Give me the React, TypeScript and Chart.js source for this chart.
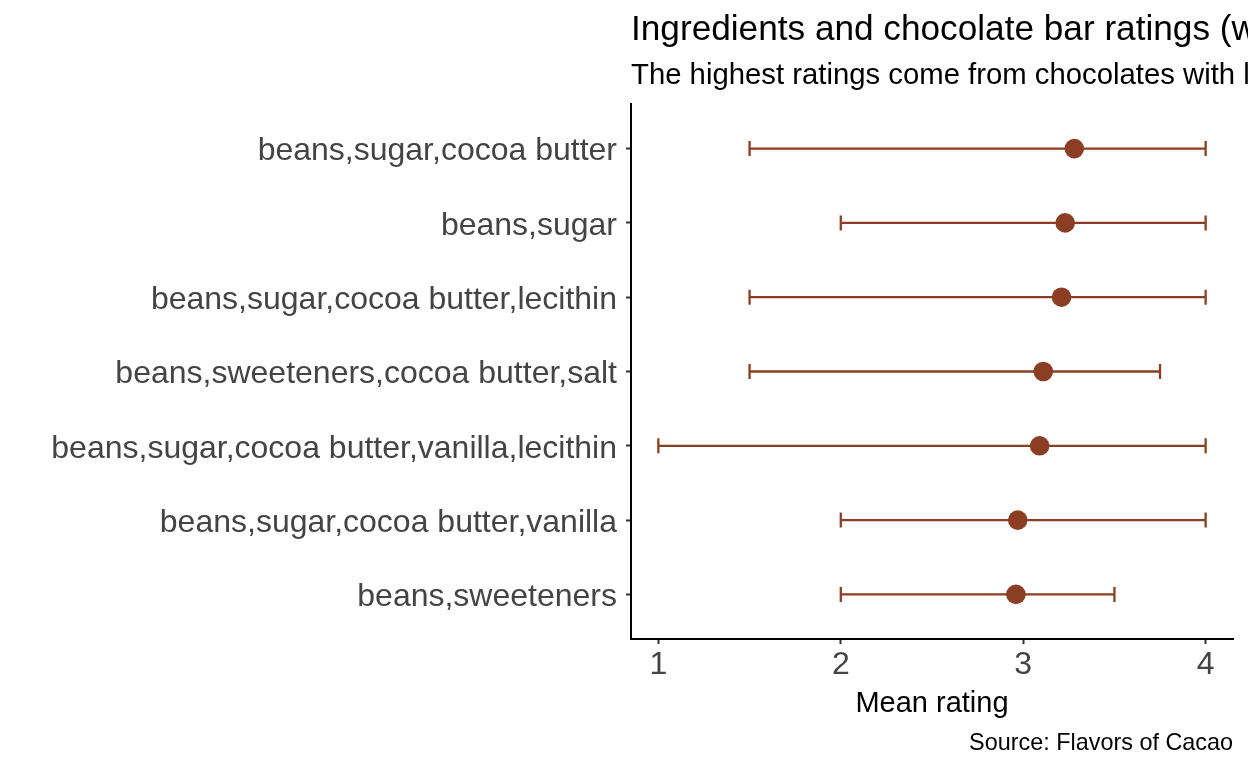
import React, { useEffect, useRef } from "react";
import { Chart, registerables } from "chart.js";

Chart.register(...registerables);

const categories = [
  "beans,sugar,cocoa butter",
  "beans,sugar",
  "beans,sugar,cocoa butter,lecithin",
  "beans,sweeteners,cocoa butter,salt",
  "beans,sugar,cocoa butter,vanilla,lecithin",
  "beans,sugar,cocoa butter,vanilla",
  "beans,sweeteners",
];
const meanRating = [3.28, 3.23, 3.21, 3.11, 3.09, 2.97, 2.96];
const minRating = [1.5, 2.0, 1.5, 1.5, 1.0, 2.0, 2.0];
const maxRating = [4.0, 4.0, 4.0, 3.75, 4.0, 4.0, 3.5];
const xTicks = [1, 2, 3, 4];

const titleText = "Ingredients and chocolate bar ratings (with at least 10 ratings)";
const subtitleText = "The highest ratings come from chocolates with less ingredients";
const xAxisTitle = "Mean rating";
const captionText = "Source: Flavors of Cacao";

const FONT = "'Liberation Sans', Arial, Helvetica, sans-serif";
const BROWN = "#8B3E23";
const LABEL_GREY = "#444444";

const textPlugin = {
  id: "textPlugin",
  afterDraw(chart: any) {
    const { ctx, chartArea } = chart;
    ctx.save();
    ctx.fillStyle = "#000000";
    ctx.textBaseline = "alphabetic";
    ctx.textAlign = "left";
    ctx.font = `35.2px ${FONT}`;
    ctx.fillText(titleText, chartArea.left, 40);
    ctx.font = `29.3px ${FONT}`;
    ctx.fillText(subtitleText, chartArea.left, 84);
    ctx.textAlign = "center";
    ctx.font = `29px ${FONT}`;
    ctx.fillText(xAxisTitle, (chartArea.left + chartArea.right) / 2, 712);
    ctx.textAlign = "right";
    ctx.font = `23.4px ${FONT}`;
    ctx.fillText(captionText, chartArea.right, 750);
    ctx.restore();
  },
};

const errorBarPlugin = {
  id: "errorBars",
  beforeDatasetsDraw(chart: any) {
    const { ctx } = chart;
    const xs = chart.scales.x;
    const ys = chart.scales.y;
    ctx.save();
    ctx.strokeStyle = BROWN;
    ctx.lineWidth = 2.3;
    for (let i = 0; i < categories.length; i++) {
      const y = ys.getPixelForValue(i);
      const x1 = xs.getPixelForValue(minRating[i]);
      const x2 = xs.getPixelForValue(maxRating[i]);
      ctx.beginPath();
      ctx.moveTo(x1, y);
      ctx.lineTo(x2, y);
      ctx.moveTo(x1, y - 7.5);
      ctx.lineTo(x1, y + 7.5);
      ctx.moveTo(x2, y - 7.5);
      ctx.lineTo(x2, y + 7.5);
      ctx.stroke();
    }
    ctx.restore();
  },
};

export default function App() {
  const ref = useRef<HTMLCanvasElement | null>(null);

  useEffect(() => {
    document.body.style.margin = "0";
    const canvas = ref.current;
    if (!canvas) return;
    const chart = new Chart(canvas, {
      type: "scatter",
      data: {
        datasets: [
          {
            data: meanRating.map((m, i) => ({ x: m, y: i })),
            backgroundColor: BROWN,
            borderColor: BROWN,
            borderWidth: 0,
            pointRadius: 9.8,
            pointHoverRadius: 9.8,
          },
        ],
      },
      options: {
        responsive: false,
        animation: false,
        events: [],
        layout: { padding: { top: 104, right: 15, bottom: 0, left: 0 } },
        plugins: {
          legend: { display: false },
          tooltip: { enabled: false },
          title: { display: false },
        },
        scales: {
          x: {
            type: "linear",
            min: 0.85,
            max: 4.15,
            afterBuildTicks: (s: any) => {
              s.ticks = xTicks.map((v) => ({ value: v }));
            },
            afterFit: (s: any) => {
              s.height = 129;
            },
            grid: {
              display: true,
              drawOnChartArea: false,
              drawTicks: true,
              tickLength: 5,
              tickColor: "#333333",
              tickWidth: 2,
            },
            border: { display: true, color: "#000000", width: 2 },
            ticks: {
              color: LABEL_GREY,
              font: { size: 32, family: FONT },
              padding: 2,
              maxRotation: 0,
              callback: (v: any) => String(v),
            },
          },
          y: {
            type: "linear",
            min: -0.6,
            max: categories.length - 1 + 0.6,
            reverse: true,
            afterBuildTicks: (s: any) => {
              s.ticks = categories.map((_, i) => ({ value: i }));
            },
            afterFit: (s: any) => {
              s.width = 631;
            },
            grid: {
              display: true,
              drawOnChartArea: false,
              drawTicks: true,
              tickLength: 5,
              tickColor: "#333333",
              tickWidth: 2,
            },
            border: { display: true, color: "#000000", width: 2 },
            ticks: {
              color: LABEL_GREY,
              font: { size: 32, family: FONT },
              padding: 9,
              labelOffset: 3,
              autoSkip: false,
              callback: (v: any) => categories[v as number] ?? "",
            },
          },
        },
      },
      plugins: [errorBarPlugin, textPlugin],
    });
    return () => chart.destroy();
  }, []);

  return (
    <div style={{ position: "fixed", left: 0, top: 0, width: 1248, height: 768, background: "#ffffff" }}>
      <canvas ref={ref} width={1248} height={768} style={{ display: "block" }} />
    </div>
  );
}
